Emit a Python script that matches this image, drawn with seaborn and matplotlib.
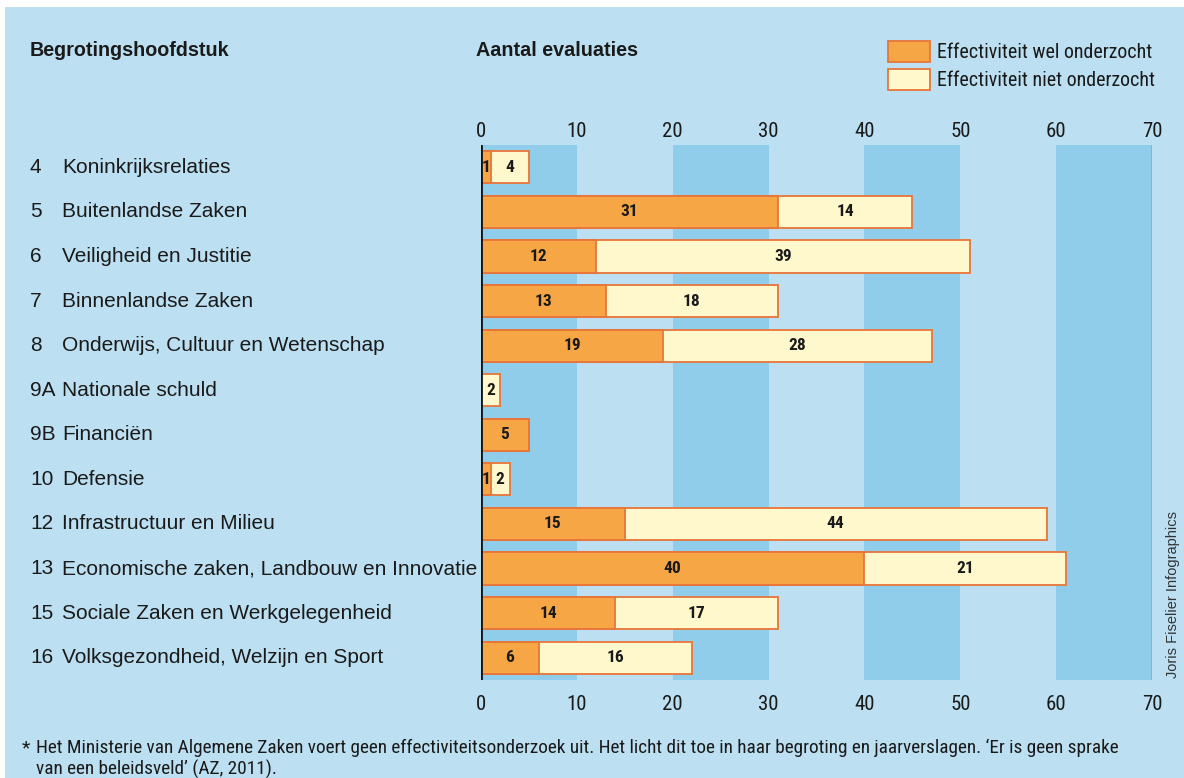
import matplotlib
matplotlib.use("Agg")
import matplotlib.pyplot as plt
import seaborn as sns
import pandas as pd
from matplotlib.patches import Rectangle
import matplotlib.transforms as mtrans

# ---- data ----
chapter_nums = ["4", "5", "6", "7", "8", "9A", "9B", "10", "12", "13", "15", "16"]
chapter_names = ["Koninkrijksrelaties", "Buitenlandse Zaken", "Veiligheid en Justitie",
                 "Binnenlandse Zaken", "Onderwijs, Cultuur en Wetenschap", "Nationale schuld",
                 "Financiën", "Defensie", "Infrastructuur en Milieu",
                 "Economische zaken, Landbouw en Innovatie", "Sociale Zaken en Werkgelegenheid",
                 "Volksgezondheid, Welzijn en Sport"]
wel = [1, 31, 12, 13, 19, 0, 5, 1, 15, 40, 14, 6]
niet = [4, 14, 39, 18, 28, 2, 0, 2, 44, 21, 17, 16]
x_ticks = [0, 10, 20, 30, 40, 50, 60, 70]

# ---- style ----
BG = "#BCE0F2"
STRIPE = "#8FCDEA"
ORANGE = "#F7A646"
CREAM = "#FFF8CC"
EDGE = "#E8753A"
TXT = "#1a1a1a"
NARROW = ["Roboto Condensed", "IBM Plex Sans Condensed", "Open Sans Condensed", "DejaVu Sans"]
REG = ["Liberation Sans", "DejaVu Sans"]

sns.set_theme(style="white")
plt.rcParams["font.family"] = REG

W, H = 1184, 778
fig = plt.figure(figsize=(W / 100, H / 100), dpi=100, facecolor="white")

def fx(px):
    return px / W

def fy(py):
    return 1 - py / H

fig.add_artist(Rectangle((fx(5), 0), 1 - fx(5), fy(7), transform=fig.transFigure,
                         facecolor=BG, edgecolor="none", zorder=0))

ax = fig.add_axes([fx(481), fy(680), fx(1152) - fx(481), fy(145) - fy(680)])
ax.set_facecolor(BG)

labels = [f"{n} {m}" for n, m in zip(chapter_nums, chapter_names)]
df = pd.DataFrame({"cat": labels, "wel": wel, "niet": niet})
df["total"] = df["wel"] + df["niet"]

for a in range(0, 70, 20):
    ax.axvspan(a, a + 10, color=STRIPE, lw=0, zorder=0)

sns.barplot(data=df, x="total", y="cat", color=CREAM, edgecolor=EDGE, linewidth=1.3,
            width=0.72, saturation=1, ax=ax, zorder=2)
sns.barplot(data=df, x="wel", y="cat", color=ORANGE, edgecolor=EDGE, linewidth=1.3,
            width=0.72, saturation=1, ax=ax, zorder=3)

ax.set_xlim(0, 70)
ax.set_ylim(len(labels) - 0.5, -0.5)
ax.set_xlabel("")
ax.set_ylabel("")
ax.set_yticks([])
ax.set_xticks(x_ticks)
ax.set_xticklabels([str(t) for t in x_ticks])
ax.tick_params(axis="x", top=True, labeltop=True, bottom=True, labelbottom=True,
               length=0, pad=11)
for t in ax.xaxis.get_major_ticks():
    for lab in (t.label1, t.label2):
        lab.set_family(NARROW)
        lab.set_fontsize(15)
        lab.set_color(TXT)
# bring top labels closer to the plot area
off_top = mtrans.ScaledTranslation(0, -11 / 100, fig.dpi_scale_trans)
for t in ax.xaxis.get_major_ticks():
    t.label2.set_transform(t.label2.get_transform() + off_top)
for s in ax.spines.values():
    s.set_visible(False)
ax.axvline(0, color="#111111", lw=2, zorder=5)
ax.axvline(70, color="#4a5a66", lw=1, zorder=5)

# segment labels
for i, (w, n) in enumerate(zip(wel, niet)):
    if w > 0:
        ax.text(w / 2, i, str(w), ha="center", va="center", family=NARROW,
                fontweight="bold", fontsize=12.5, color=TXT, zorder=6)
    if n > 0:
        ax.text(w + n / 2, i, str(n), ha="center", va="center", family=NARROW,
                fontweight="bold", fontsize=12.5, color=TXT, zorder=6)

# category labels
trans = mtrans.blended_transform_factory(fig.transFigure, ax.transData)
for i, (num, name) in enumerate(zip(chapter_nums, chapter_names)):
    ax.text(fx(30), i, num, transform=trans, ha="left", va="center",
            fontsize=15, color=TXT)
    ax.text(fx(62), i, name, transform=trans, ha="left", va="center",
            fontsize=15, color=TXT)

# headers
fig.text(fx(30), fy(51), "Begrotingshoofdstuk", ha="left", va="center",
         fontsize=14.2, fontweight="bold", color=TXT)
fig.text(fx(476), fy(51), "Aantal evaluaties", ha="left", va="center",
         fontsize=14.2, fontweight="bold", color=TXT)

# legend
for y0, col, txt in [(41, ORANGE, "Effectiviteit wel onderzocht"),
                     (69, CREAM, "Effectiviteit niet onderzocht")]:
    fig.add_artist(Rectangle((fx(888), fy(y0 + 21)), fx(930) - fx(888), fy(y0) - fy(y0 + 21),
                             transform=fig.transFigure, facecolor=col, edgecolor=EDGE, lw=1.3))
    fig.text(fx(937), fy(y0 + 11), txt, ha="left", va="center", family=NARROW,
             fontsize=14.4, color=TXT)

# credit
fig.text(fx(1173), fy(594), "Joris Fiselier Infographics", rotation=90, ha="center",
         va="center", fontsize=10.5, color="#333333")

# footnote
fs_note = 13.85
fig.text(fx(22), fy(748), "*", ha="left", va="center", family=NARROW, fontsize=fs_note, color=TXT)
fig.text(fx(36), fy(748),
         "Het Ministerie van Algemene Zaken voert geen effectiviteitsonderzoek uit. Het licht dit toe in haar begroting en jaarverslagen. \u2018Er is geen sprake",
         ha="left", va="center", family=NARROW, fontsize=fs_note, color=TXT)
fig.text(fx(36), fy(769), "van een beleidsveld\u2019 (AZ, 2011).",
         ha="left", va="center", family=NARROW, fontsize=fs_note, color=TXT)

fig.savefig("out.png", dpi=100, facecolor="white")
